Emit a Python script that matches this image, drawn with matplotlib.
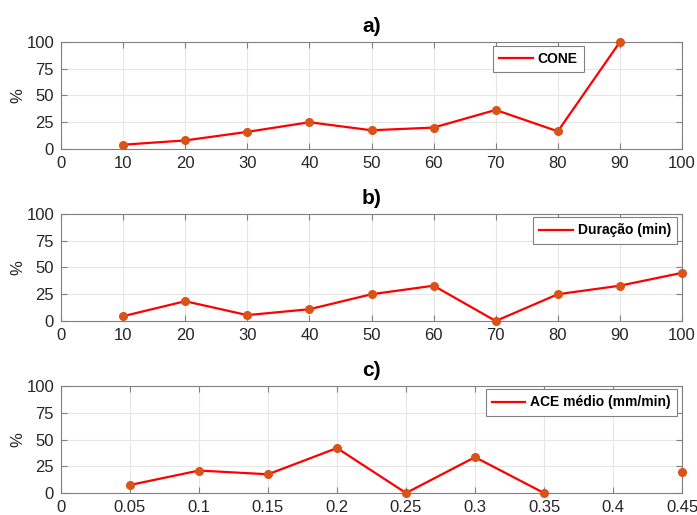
import numpy as np
import matplotlib
matplotlib.use("Agg")
import matplotlib.pyplot as plt

plt.rcParams["font.family"] = ["Liberation Sans", "DejaVu Sans"]

# dados
x_a = [10, 20, 30, 40, 50, 60, 70, 80, 90]
y_a = [4, 8, 16, 25, 17.5, 20, 36.5, 16.5, 100]
x_b = [10, 20, 30, 40, 50, 60, 70, 80, 90, 100]
y_b = [4.5, 18.5, 5.5, 11, 25, 33, 0, 25, 33, 45]
x_c = [0.05, 0.1, 0.15, 0.2, 0.25, 0.3, 0.35, 0.4, 0.45]
y_c = [7.5, 21, 17.5, 42, 0, 33.5, 0, np.nan, 20]

xt_a = [0, 10, 20, 30, 40, 50, 60, 70, 80, 90, 100]
xt_c = [0, 0.05, 0.1, 0.15, 0.2, 0.25, 0.3, 0.35, 0.4, 0.45]
xtl_c = ["0", "0.05", "0.1", "0.15", "0.2", "0.25", "0.3", "0.35", "0.4", "0.45"]
yt = [0, 25, 50, 75, 100]

panels = [
    ("a)", x_a, y_a, "CONE", xt_a, [str(v) for v in xt_a], (0, 100)),
    ("b)", x_b, y_b, "Duração (min)", xt_a, [str(v) for v in xt_a], (0, 100)),
    ("c)", x_c, y_c, "ACE médio (mm/min)", xt_c, xtl_c, (0, 0.45)),
]

fig = plt.figure(figsize=(6.97, 5.15), dpi=100)
left, width, height = 0.0875, 0.891, 0.2078
bottoms = [0.7107, 0.3767, 0.0427]
legkw = dict(prop={"weight": "bold", "size": 10}, fancybox=False, borderpad=0.45,
             handlelength=2.4, handletextpad=0.35, borderaxespad=0)

for (title, x, y, lab, xt, xtl, xl), b in zip(panels, bottoms):
    ax = fig.add_axes([left, b, width, height])
    ax.plot(x, y, "-", color="red", lw=1.6, label=lab, zorder=2)
    ax.plot(x, y, "o", color="#D95319", ms=5.5, zorder=3, clip_on=False)
    ax.set_xlim(xl)
    ax.set_ylim(0, 100)
    ax.set_xticks(xt)
    ax.set_xticklabels(xtl)
    ax.set_yticks(yt)
    ax.grid(True, color="#e6e6e6", lw=0.8)
    ax.set_axisbelow(True)
    for s in ax.spines.values():
        s.set_color("#808080")
        s.set_linewidth(0.8)
    ax.tick_params(direction="in", length=4, color="#808080", labelsize=12,
                   labelcolor="#262626", top=True, right=True, pad=5)
    ax.set_ylabel("%", fontsize=12, color="#262626", labelpad=1)
    ax.set_title(title, fontsize=15, fontweight="bold", pad=7)
    if title == "a)":
        leg = ax.legend(loc="upper left", bbox_to_anchor=(0.696, 0.963), **legkw)
    else:
        leg = ax.legend(loc="upper right", bbox_to_anchor=(0.992, 0.97), **legkw)
    leg.get_frame().set_edgecolor("#808080")
    leg.get_frame().set_linewidth(0.8)
    leg.get_frame().set_alpha(1)

fig.savefig("out.png", dpi=100)
